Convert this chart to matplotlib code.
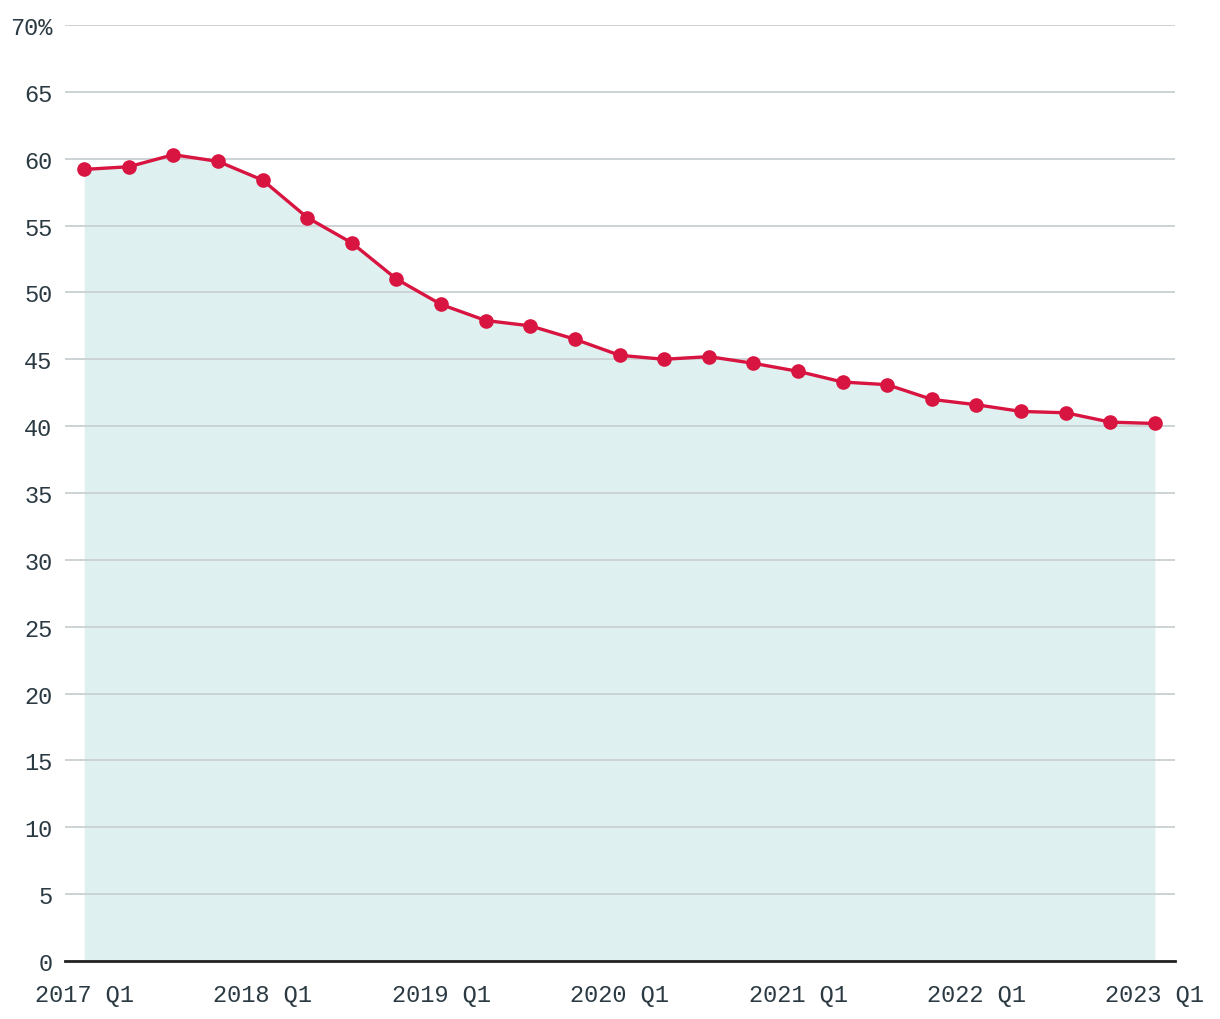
import matplotlib
matplotlib.use("Agg")
import matplotlib.pyplot as plt

# quarterly values, 2017 Q1 .. 2023 Q1
quarters = [f"{y} Q{q}" for y in range(2017, 2024) for q in range(1, 5)][:25]
values = [
    59.2, 59.4, 60.3, 59.8, 58.4, 55.6, 53.7, 51.0, 49.1, 47.9,
    47.5, 46.5, 45.3, 45.0, 45.2, 44.7, 44.1, 43.3, 43.1, 42.0,
    41.6, 41.1, 41.0, 40.3, 40.2,
]
y_ticks = list(range(0, 75, 5))
y_labels = [str(v) for v in y_ticks[:-1]] + ["70%"]

text_color = "#2b3a42"
plt.rcParams["font.family"] = ["Liberation Mono", "DejaVu Sans Mono"]

fig = plt.figure(figsize=(12.2, 10.2), dpi=100)
ax = fig.add_axes([65 / 1220, 1 - 962 / 1020, 1110 / 1220, 936 / 1020])

x = list(range(len(values)))
ax.fill_between(x, values, 0, color="#dff0f0", linewidth=0, zorder=1)
ax.plot(x, values, color="#d81440", linewidth=2.4, marker="o",
        markersize=9.5, zorder=4, clip_on=False)

ax.set_ylim(0, 70)
ax.set_xlim(-0.43, 24.45)
ax.set_yticks(y_ticks)
ax.set_yticklabels(y_labels)
tick_pos = x[::4]
ax.set_xticks(tick_pos)
ax.set_xticklabels([quarters[i] for i in tick_pos])

ax.grid(axis="y", color="#c9d0d2", linewidth=1.3, zorder=2)
ax.set_axisbelow(False)
for s in ["top", "right", "left"]:
    ax.spines[s].set_visible(False)
ax.spines["bottom"].set_color("#222222")
ax.spines["bottom"].set_linewidth(2)
ax.spines["bottom"].set_zorder(5)

ax.tick_params(axis="y", length=0, pad=9, labelsize=17, labelcolor=text_color)
ax.tick_params(axis="x", length=0, pad=16, labelsize=17, labelcolor=text_color)

fig.savefig("out.png", dpi=100)
